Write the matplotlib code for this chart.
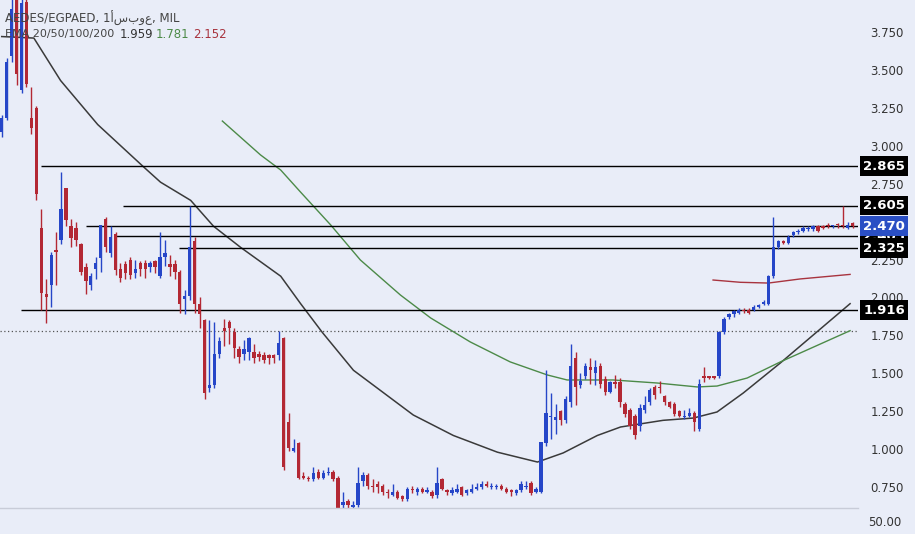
import matplotlib
matplotlib.use("Agg")
import matplotlib.pyplot as plt

# candles: open, close, high, low (weekly)
opens = [3.09,3.18,3.59,3.96,3.37,3.95,3.18,3.25,2.46,2.02,2.08,2.31,2.38,2.72,2.47,2.46,2.35,2.20,2.08,2.19,
2.26,2.52,2.29,2.42,2.19,2.22,2.25,2.16,2.23,2.23,2.20,2.24,2.14,2.27,2.22,2.22,2.17,1.99,2.01,2.37,
1.96,1.85,1.40,1.42,1.63,1.80,1.84,1.77,1.66,1.63,1.64,1.64,1.63,1.62,1.62,1.62,1.62,1.73,1.18,0.99,
1.04,0.82,0.81,0.80,0.85,0.81,0.84,0.85,0.81,0.63,0.66,0.62,0.63,0.79,0.83,0.76,0.77,0.76,0.72,0.70,
0.72,0.69,0.67,0.74,0.72,0.74,0.72,0.72,0.70,0.80,0.73,0.71,0.72,0.75,0.71,0.72,0.74,0.75,0.77,0.75,
0.75,0.76,0.74,0.73,0.71,0.73,0.75,0.78,0.72,0.72,1.04,1.21,1.19,1.25,1.19,1.31,1.60,1.42,1.48,1.54,
1.50,1.55,1.46,1.38,1.44,1.44,1.30,1.26,1.22,1.15,1.26,1.31,1.41,1.41,1.35,1.31,1.30,1.25,1.21,1.22,
1.24,1.13,1.48,1.48,1.48,1.48,1.77,1.87,1.89,1.90,1.92,1.92,1.92,1.94,1.96,1.96,2.14,2.33,2.37,2.36,
2.41,2.43,2.44,2.45,2.45,2.47,2.47,2.48,2.47,2.48,2.48,2.46,2.49]
closes = [3.18,3.55,3.90,3.47,3.94,3.41,3.12,2.68,2.03,2.00,2.28,2.30,2.58,2.51,2.39,2.38,2.17,2.11,2.14,2.23,
2.48,2.33,2.40,2.18,2.13,2.16,2.15,2.19,2.19,2.19,2.23,2.20,2.27,2.29,2.20,2.17,1.96,2.01,2.33,1.96,
1.89,1.37,1.42,1.63,1.71,1.78,1.80,1.67,1.61,1.66,1.73,1.60,1.61,1.59,1.60,1.60,1.70,0.88,1.01,1.01,
0.81,0.81,0.80,0.84,0.81,0.84,0.85,0.80,0.61,0.65,0.63,0.63,0.78,0.83,0.76,0.75,0.75,0.72,0.71,0.72,
0.68,0.67,0.74,0.73,0.74,0.72,0.73,0.69,0.78,0.74,0.72,0.73,0.74,0.70,0.73,0.74,0.75,0.77,0.76,0.76,
0.76,0.74,0.72,0.72,0.73,0.77,0.76,0.71,0.74,1.05,1.24,1.22,1.21,1.19,1.33,1.55,1.41,1.45,1.55,1.52,
1.54,1.43,1.38,1.44,1.43,1.31,1.23,1.15,1.09,1.27,1.29,1.39,1.36,1.40,1.31,1.28,1.23,1.22,1.22,1.24,
1.18,1.43,1.47,1.47,1.47,1.77,1.86,1.89,1.91,1.92,1.91,1.90,1.94,1.95,1.97,2.14,2.33,2.37,2.36,2.40,
2.43,2.44,2.46,2.46,2.47,2.44,2.46,2.47,2.475,2.475,2.47,2.48,2.47]
highs = [3.20,3.58,3.98,3.98,3.98,3.98,3.39,3.26,2.58,2.12,2.30,2.43,2.83,2.72,2.52,2.50,2.36,2.23,2.16,2.27,
2.48,2.53,2.47,2.43,2.23,2.24,2.27,2.25,2.24,2.25,2.24,2.25,2.43,2.38,2.28,2.25,2.18,2.05,2.60,2.40,
2.00,1.86,1.85,1.84,1.74,1.86,1.85,1.80,1.68,1.72,1.74,1.69,1.65,1.64,1.63,1.63,1.78,1.74,1.24,1.07,
1.05,0.85,0.82,0.88,0.87,0.86,0.88,0.86,0.82,0.72,0.67,0.66,0.88,0.85,0.84,0.80,0.79,0.77,0.74,0.77,
0.73,0.70,0.75,0.76,0.75,0.75,0.75,0.73,0.88,0.81,0.74,0.75,0.77,0.76,0.74,0.77,0.78,0.79,0.79,0.78,
0.77,0.77,0.75,0.74,0.74,0.79,0.79,0.79,0.75,1.05,1.52,1.37,1.30,1.26,1.35,1.69,1.64,1.50,1.57,1.60,
1.59,1.57,1.48,1.45,1.49,1.47,1.31,1.27,1.23,1.30,1.35,1.40,1.42,1.45,1.36,1.32,1.31,1.26,1.26,1.27,
1.25,1.46,1.54,1.48,1.48,1.78,1.87,1.90,1.92,1.93,1.93,1.93,1.95,1.96,1.98,2.15,2.53,2.38,2.38,2.41,
2.44,2.45,2.47,2.47,2.48,2.48,2.48,2.49,2.48,2.49,2.60,2.50,2.50]
lows = [3.06,3.17,3.55,3.40,3.35,3.39,3.08,2.64,1.92,1.83,1.94,2.08,2.35,2.47,2.33,2.34,2.15,2.02,2.05,2.12,
2.17,2.30,2.27,2.15,2.10,2.12,2.12,2.13,2.14,2.13,2.17,2.16,2.13,2.21,2.14,2.12,1.90,1.89,1.98,1.90,
1.80,1.33,1.38,1.40,1.60,1.68,1.69,1.60,1.57,1.59,1.59,1.57,1.58,1.57,1.56,1.57,1.59,0.86,0.99,0.98,
0.80,0.80,0.79,0.79,0.80,0.80,0.83,0.79,0.60,0.61,0.61,0.61,0.62,0.76,0.74,0.72,0.71,0.70,0.68,0.69,
0.67,0.66,0.66,0.71,0.70,0.71,0.71,0.68,0.68,0.73,0.70,0.70,0.71,0.69,0.70,0.71,0.73,0.74,0.75,0.74,
0.74,0.73,0.71,0.69,0.70,0.72,0.74,0.70,0.71,0.71,1.02,1.07,1.10,1.16,1.17,1.28,1.29,1.40,1.46,1.43,
1.42,1.40,1.36,1.37,1.40,1.28,1.21,1.13,1.07,1.12,1.24,1.29,1.33,1.37,1.29,1.27,1.22,1.21,1.20,1.21,
1.12,1.12,1.44,1.46,1.46,1.47,1.76,1.86,1.87,1.89,1.90,1.89,1.91,1.93,1.95,1.95,2.13,2.32,2.35,2.35,
2.40,2.42,2.43,2.44,2.44,2.43,2.45,2.46,2.46,2.46,2.46,2.45,2.46]

# moving averages: index, value
ema20_x = [0,6.5,11.9,19.4,28.7,32.1,38.2,42.8,48.3,56.4,60.4,64.8,71.1,83.2,91.3,100.2,108.3,113.5,120.4,125.1,133.7,139.8,144.6,149.9,157.4,171.5]
ema20_y = [3.72,3.71,3.43,3.14,2.86,2.76,2.64,2.47,2.33,2.14,1.96,1.77,1.52,1.225,1.09,0.98,0.915,0.975,1.09,1.146,1.19,1.205,1.245,1.37,1.568,1.959]
ema50_x = [44.6,52.3,56.4,60.4,66.5,72.5,80.6,86.7,94.7,102.8,110.3,114.3,123.6,132.5,140.6,144.6,150.7,157.4,171.5]
ema50_y = [3.163,2.94,2.84,2.695,2.478,2.247,2.016,1.865,1.707,1.575,1.489,1.456,1.456,1.436,1.41,1.416,1.469,1.575,1.781]
ema100_x = [143.8,149.3,155.0,161.4,171.5]
ema100_y = [2.115,2.10,2.095,2.122,2.152]

levels = [2.865,2.605,2.470,2.405,2.325,1.916]
level_start = [7.9,24.6,17.0,23.0,35.8,3.8]
level_colors = ['black','black','#2a4fc4','black','black','black']
yticks = [0.75,1.0,1.25,1.5,1.75,2.0,2.25,2.5,2.75,3.0,3.25,3.5,3.75]

BLUE = '#2646c8'
RED = '#b32834'
BG = '#e9edf8'

fig = plt.figure(figsize=(9.15,5.34), dpi=100, facecolor=BG)
ax = fig.add_axes([0, 26/534, 858/915, 508/534], facecolor=BG)
for s in ax.spines.values():
    s.set_visible(False)
ax.set_xlim(-0.35, 173.1)
ax.set_ylim(0.612, 3.961)
ax.set_xticks([])
ax.yaxis.tick_right()
ax.set_yticks(yticks)
ax.set_yticklabels([f"{v:.3f}" for v in yticks], fontsize=8.5, color='#333333')
ax.tick_params(axis='y', length=0, pad=9)

for i,(o,c,h,l) in enumerate(zip(opens,closes,highs,lows)):
    col = BLUE if c >= o else RED
    ax.vlines(i, l, h, color=col, linewidth=1, zorder=3)
    lo, hi = min(o,c), max(o,c)
    ax.bar(i, max(hi-lo, 0.008), bottom=lo, width=0.68, color=col, zorder=4, linewidth=0)

ax.plot(ema20_x, ema20_y, color='#3a3a3a', lw=1.1, zorder=2)
ax.plot(ema50_x, ema50_y, color='#4c8a48', lw=1.0, zorder=2)
ax.plot(ema100_x, ema100_y, color='#a8343f', lw=1.0, zorder=2)

for lv, st in zip(levels, level_start):
    ax.hlines(lv, st, 173.1, color='black', lw=1.0, zorder=2)
ax.axhline(1.779, color='#555555', lw=0.9, ls=(0,(1,2)), zorder=1)

# right labels
for lv, col in zip(levels, level_colors):
    ax.text(1.006, lv, f"{lv:.3f}", transform=ax.get_yaxis_transform(), fontsize=9.5,
            fontweight='bold', color='white', va='center', ha='left',
            bbox=dict(boxstyle='square,pad=0.25', fc=col, ec='none'), zorder=10, clip_on=False)
ax.text(1.006, 2.470, "2.470", transform=ax.get_yaxis_transform(), fontsize=9.5,
        fontweight='bold', color='white', va='center', ha='left',
        bbox=dict(boxstyle='square,pad=0.25', fc='#2a4fc4', ec='none'), zorder=11, clip_on=False)

fig.text(5/915, 1-18/534, "AEDES/EGPAED, 1أسبوع, MIL", fontsize=8.5, color='#444444', va='center')
fig.text(5/915, 1-34/534, "EMA 20/50/100/200", fontsize=8, color='#444444', va='center')
fig.text(120/915, 1-34/534, "1.959", fontsize=8.5, color='#333333', va='center')
fig.text(156/915, 1-34/534, "1.781", fontsize=8.5, color='#4c8a48', va='center')
fig.text(193/915, 1-34/534, "2.152", fontsize=8.5, color='#a8343f', va='center')

fig.add_artist(plt.Line2D([0, 858/915], [26/534, 26/534], color='#c8ccd8', lw=1))
fig.text(868/915, 12/534, "50.00", fontsize=8.5, color='#333333', va='center')

fig.savefig("out.png", dpi=100, facecolor=BG)
